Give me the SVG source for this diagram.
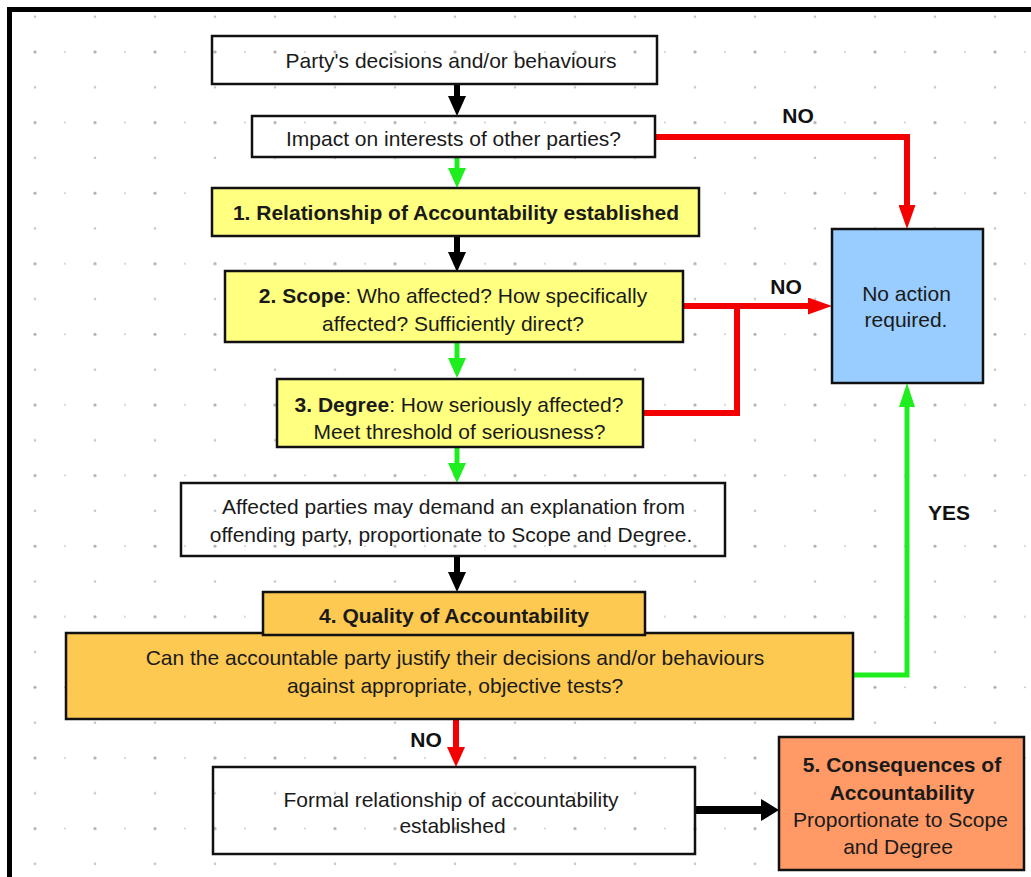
<svg xmlns="http://www.w3.org/2000/svg" width="1031" height="877" viewBox="0 0 1031 877">
<style>
.box{stroke:#111;stroke-width:2.5}
.white{fill:none}
.yellow{fill:#FFFF80}
.orange{fill:#FDC950}
.blue{fill:#99CCFF}
.salmon{fill:#FF9966}
text{font-family:"Liberation Sans",Arial,sans-serif;font-size:21px;fill:#1a1a1a;text-anchor:middle}
.b{font-weight:bold}
.lbl{font-weight:bold;fill:#111}
.red{stroke:#F50000;stroke-width:6;fill:none}
.green{stroke:#1EEE1E;stroke-width:5;fill:none}
.black{stroke:#000;stroke-width:6;fill:none}
.thick{stroke:#000;stroke-width:8;fill:none}
</style>
<defs>
<pattern id="grid" patternUnits="userSpaceOnUse" x="20" y="-1" width="60" height="70.6">
<circle cx="15" cy="17.65" r="1.3" fill="#c4c4c4"/>
<circle cx="15" cy="52.95" r="1.6" fill="#b0b0b0"/>
<circle cx="45" cy="52.95" r="1.1" fill="#cfcfcf"/>
</pattern>
<marker id="mBlack" markerUnits="userSpaceOnUse" viewBox="0 0 20 18" refX="0" refY="9" markerWidth="20" markerHeight="18" orient="auto"><path d="M0,0 L20,9 L0,18 z" fill="#000"/></marker>
<marker id="mGreen" markerUnits="userSpaceOnUse" viewBox="0 0 20 18" refX="0" refY="9" markerWidth="20" markerHeight="18" orient="auto"><path d="M0,0 L20,9 L0,18 z" fill="#1EEE1E"/></marker>
<marker id="mRed" markerUnits="userSpaceOnUse" viewBox="0 0 20 18" refX="0" refY="9" markerWidth="20" markerHeight="18" orient="auto"><path d="M0,0 L20,9 L0,18 z" fill="#F50000"/></marker>
<marker id="mRedLong" markerUnits="userSpaceOnUse" viewBox="0 0 24 17" refX="0" refY="8.5" markerWidth="24" markerHeight="17" orient="auto"><path d="M0,0 L24,8.5 L0,17 z" fill="#F50000"/></marker>
<marker id="mGreenLong" markerUnits="userSpaceOnUse" viewBox="0 0 24 16" refX="0" refY="8" markerWidth="24" markerHeight="16" orient="auto"><path d="M0,0 L24,8 L0,16 z" fill="#1EEE1E"/></marker>
<marker id="mThick" markerUnits="userSpaceOnUse" viewBox="0 0 18 22" refX="0" refY="11" markerWidth="18" markerHeight="22" orient="auto"><path d="M0,0 L18,11 L0,22 z" fill="#000"/></marker>
</defs>
<rect x="0" y="0" width="1031" height="877" fill="#fff"/>
<rect x="12" y="12" width="1019" height="865" fill="url(#grid)"/>
<rect x="9.5" y="9.5" width="1040" height="900" fill="none" stroke="#000" stroke-width="5"/>

<g id="connectors">
<path class="black" d="M457,84 V96" marker-end="url(#mBlack)"/>
<path class="green" d="M457,157 V168" marker-end="url(#mGreen)"/>
<path class="black" d="M457,236 V252" marker-end="url(#mBlack)"/>
<path class="green" d="M457,342 V358" marker-end="url(#mGreen)"/>
<path class="green" d="M457,447 V463" marker-end="url(#mGreen)"/>
<path class="black" d="M457,556 V572" marker-end="url(#mBlack)"/>
<path class="red" d="M456,719 V747" marker-end="url(#mRed)"/>
<path class="thick" d="M695,810 H761" marker-end="url(#mThick)"/>
<path class="red" d="M655,137 H907 V205" marker-end="url(#mRedLong)"/>
<path class="red" d="M683,306 H808" marker-end="url(#mRedLong)"/>
<path class="red" d="M643,413 H737 V306"/>
<path class="green" d="M853,675 H907 V407" marker-end="url(#mGreenLong)"/>
<text class="lbl" x="798" y="123">NO</text>
<text class="lbl" x="786" y="294">NO</text>
<text class="lbl" x="949" y="520">YES</text>
<text class="lbl" x="426" y="747">NO</text>
</g>

<g id="n1">
<rect class="box white" x="212" y="36" width="445" height="48"/>
<text x="451" y="68">Party's decisions and/or behaviours</text>
</g>
<g id="n2">
<rect class="box white" x="252" y="116" width="403" height="41"/>
<text x="453.5" y="146">Impact on interests of other parties?</text>
</g>
<g id="n3">
<rect class="box yellow" x="212" y="188" width="487" height="48"/>
<text class="b" x="456" y="220">1. Relationship of Accountability established</text>
</g>
<g id="n4">
<rect class="box yellow" x="225" y="271" width="458" height="71"/>
<text x="453" y="303"><tspan class="b">2. Scope</tspan>: Who affected? How specifically</text>
<text x="453" y="331">affected? Sufficiently direct?</text>
</g>
<g id="n5">
<rect class="box yellow" x="277" y="379" width="366" height="68"/>
<text x="459" y="412"><tspan class="b">3. Degree</tspan>: How seriously affected?</text>
<text x="459.5" y="439">Meet threshold of seriousness?</text>
</g>
<g id="n6">
<rect class="box white" x="181" y="483" width="544" height="73"/>
<text x="453.5" y="514">Affected parties may demand an explanation from</text>
<text x="451" y="542">offending party, proportionate to Scope and Degree.</text>
</g>
<g id="n7">
<rect class="box orange" x="66" y="633" width="787" height="86"/>
<text x="455" y="665">Can the accountable party justify their decisions and/or behaviours</text>
<text x="455" y="693">against appropriate, objective tests?</text>
</g>
<g id="n8">
<rect class="box orange" x="263" y="592" width="382" height="43"/>
<text class="b" x="454" y="623">4. Quality of Accountability</text>
</g>
<g id="n9">
<rect class="box white" x="213" y="767" width="482" height="87"/>
<text x="451" y="807">Formal relationship of accountability</text>
<text x="452.5" y="833">established</text>
</g>
<g id="n10">
<rect class="box salmon" x="779" y="737" width="245" height="133"/>
<text class="b" x="902" y="772">5. Consequences of</text>
<text class="b" x="902" y="800">Accountability</text>
<text x="900.5" y="827">Proportionate to Scope</text>
<text x="898" y="854">and Degree</text>
</g>
<g id="n11">
<rect class="box blue" x="832" y="229" width="151" height="154"/>
<text x="906.5" y="301">No action</text>
<text x="906" y="327">required.</text>
</g>
</svg>
